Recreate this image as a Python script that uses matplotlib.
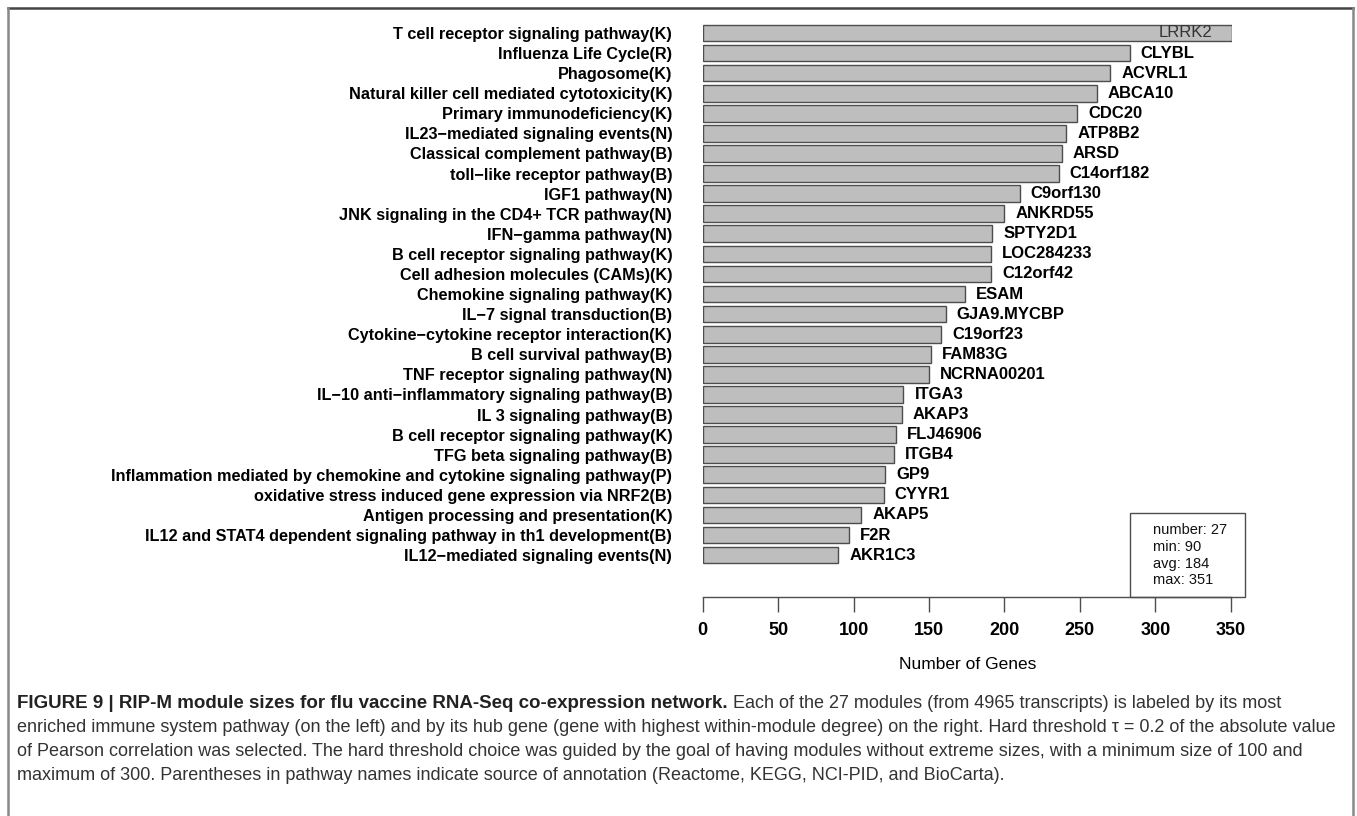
import numpy as np
import matplotlib
matplotlib.use("Agg")
import matplotlib.pyplot as plt
from matplotlib import font_manager
from matplotlib.lines import Line2D
from matplotlib.patches import Rectangle

pathways = [
    "T cell receptor signaling pathway(K)",
    "Influenza Life Cycle(R)",
    "Phagosome(K)",
    "Natural killer cell mediated cytotoxicity(K)",
    "Primary immunodeficiency(K)",
    "IL23\u2212mediated signaling events(N)",
    "Classical complement pathway(B)",
    "toll\u2212like receptor pathway(B)",
    "IGF1 pathway(N)",
    "JNK signaling in the CD4+ TCR pathway(N)",
    "IFN\u2212gamma pathway(N)",
    "B cell receptor signaling pathway(K)",
    "Cell adhesion molecules (CAMs)(K)",
    "Chemokine signaling pathway(K)",
    "IL\u22127 signal transduction(B)",
    "Cytokine\u2212cytokine receptor interaction(K)",
    "B cell survival pathway(B)",
    "TNF receptor signaling pathway(N)",
    "IL\u221210 anti\u2212inflammatory signaling pathway(B)",
    "IL 3 signaling pathway(B)",
    "B cell receptor signaling pathway(K)",
    "TFG beta signaling pathway(B)",
    "Inflammation mediated by chemokine and cytokine signaling pathway(P)",
    "oxidative stress induced gene expression via NRF2(B)",
    "Antigen processing and presentation(K)",
    "IL12 and STAT4 dependent signaling pathway in th1 development(B)",
    "IL12\u2212mediated signaling events(N)",
]
hub_genes = [
    "LRRK2", "CLYBL", "ACVRL1", "ABCA10", "CDC20", "ATP8B2", "ARSD",
    "C14orf182", "C9orf130", "ANKRD55", "SPTY2D1", "LOC284233", "C12orf42",
    "ESAM", "GJA9.MYCBP", "C19orf23", "FAM83G", "NCRNA00201", "ITGA3",
    "AKAP3", "FLJ46906", "ITGB4", "GP9", "CYYR1", "AKAP5", "F2R", "AKR1C3",
]
module_sizes = [
    351, 283, 270, 261, 248, 241, 238, 236, 210, 200, 192, 191, 191, 174,
    161, 158, 151, 150, 133, 132, 128, 127, 121, 120, 105, 97, 90,
]
xticks = [0, 50, 100, 150, 200, 250, 300, 350]

caption_bold = "FIGURE 9 | RIP-M module sizes for flu vaccine RNA-Seq co-expression network."
caption_lines = [
    " Each of the 27 modules (from 4965 transcripts) is labeled by its most",
    "enriched immune system pathway (on the left) and by its hub gene (gene with highest within-module degree) on the right. Hard threshold \u03c4 = 0.2 of the absolute value",
    "of Pearson correlation was selected. The hard threshold choice was guided by the goal of having modules without extreme sizes, with a minimum size of 100 and",
    "maximum of 300. Parentheses in pathway names indicate source of annotation (Reactome, KEGG, NCI-PID, and BioCarta).",
]

installed = {f.name for f in font_manager.fontManager.ttflist}
narrow = "Liberation Sans Narrow" if "Liberation Sans Narrow" in installed else "Liberation Sans"
plt.rcParams["font.family"] = ["Liberation Sans", "DejaVu Sans"]

W, H = 1357, 816
fig = plt.figure(figsize=(W / 100, H / 100), dpi=100)

def fx(px):
    return px / W

def fy(py):
    return 1 - py / H

# plot area: x data 0..351 spans px 702.7..1232.3, axis line at px 597
x0, x1 = 702.7, 1232.3
top_px, bot_px = 20, 597
ax = fig.add_axes([fx(x0), fy(bot_px), fx(x1 - x0), (bot_px - top_px) / H])
n = len(module_sizes)
pos = np.arange(n)
step = 20.08
first = 33
ax.set_xlim(0, 351)
ax.set_ylim((bot_px - first) / step, (top_px - first) / step)

ax.barh(pos, module_sizes, height=0.83, color="#bebebe", edgecolor="#4d4d4d", linewidth=1.0)

for k, (v, g) in enumerate(zip(module_sizes, hub_genes)):
    if v + 60 > 351:
        # no room on the right: put the name inside the bar
        ax.text(v - 13, k, g, ha="right", va="center", fontsize=12, color="#333333")
    else:
        ax.text(v + 7.3, k, g, ha="left", va="center", fontsize=12, fontweight="bold", color="black")

ax.set_yticks(pos)
ax.set_yticklabels(pathways, fontsize=11.7, fontweight="bold")
ax.tick_params(axis="y", length=0, pad=22)

for s in ["top", "right", "left"]:
    ax.spines[s].set_visible(False)
ax.spines["bottom"].set_bounds(0, 350)
ax.spines["bottom"].set_color("#4d4d4d")
ax.spines["bottom"].set_linewidth(1.0)
ax.set_xticks(xticks)
ax.set_xticklabels([str(t) for t in xticks], fontsize=13, fontweight="bold")
ax.tick_params(axis="x", length=11, width=1.0, color="#4d4d4d", pad=7)
ax.set_xlabel("Number of Genes", fontsize=12.5, labelpad=13)

# summary box
fig.patches.append(Rectangle((fx(1130), fy(597)), fx(1245 - 1130), (597 - 513) / H,
                             transform=fig.transFigure, fill=False,
                             edgecolor="#4d4d4d", linewidth=1.0))
stats = [
    "number: %d" % n,
    "min: %d" % min(module_sizes),
    "avg: %d" % round(np.mean(module_sizes)),
    "max: %d" % max(module_sizes),
]
for i, s in enumerate(stats):
    fig.text(fx(1153), fy(530 + 16.8 * i), s, ha="left", va="center", fontsize=10.5, color="#111111")

# frame
fig.add_artist(Line2D([fx(8), fx(1353)], [fy(8), fy(8)], color="#444444", linewidth=1.8))
fig.add_artist(Line2D([fx(8), fx(8)], [fy(8), 0], color="#888888", linewidth=1.8))
fig.add_artist(Line2D([fx(1353), fx(1353)], [fy(8), 0], color="#888888", linewidth=1.8))

# caption
cap_y = [703, 727, 751, 775]
t = fig.text(fx(17), fy(cap_y[0]), caption_bold, ha="left", va="center",
             fontsize=13.5, fontweight="bold", family=narrow, color="#222222")
fig.canvas.draw()
bb = t.get_window_extent(renderer=fig.canvas.get_renderer())
fig.text(bb.x1 / W, fy(cap_y[0]), caption_lines[0], ha="left", va="center",
         fontsize=13, family=narrow, color="#333333")
for y, line in zip(cap_y[1:], caption_lines[1:]):
    fig.text(fx(17), fy(y), line, ha="left", va="center", fontsize=13, family=narrow, color="#333333")

fig.savefig("out.png", dpi=100)
